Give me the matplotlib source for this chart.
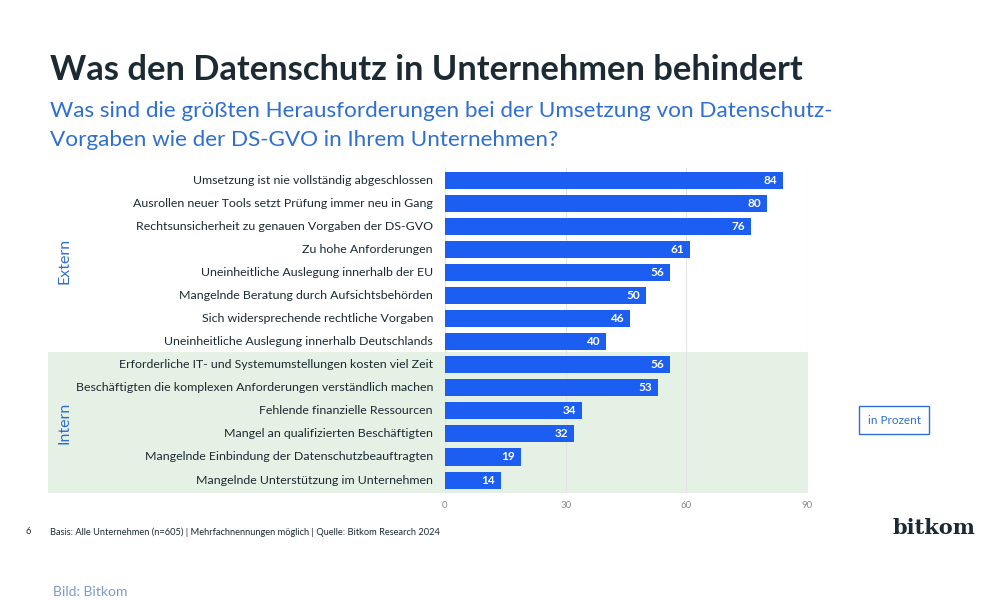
import matplotlib
matplotlib.use("Agg")
import matplotlib.pyplot as plt
import matplotlib.transforms as mtransforms
from matplotlib.patches import Rectangle

categories = [
    "Umsetzung ist nie vollständig abgeschlossen",
    "Ausrollen neuer Tools setzt Prüfung immer neu in Gang",
    "Rechtsunsicherheit zu genauen Vorgaben der DS-GVO",
    "Zu hohe Anforderungen",
    "Uneinheitliche Auslegung innerhalb der EU",
    "Mangelnde Beratung durch Aufsichtsbehörden",
    "Sich widersprechende rechtliche Vorgaben",
    "Uneinheitliche Auslegung innerhalb Deutschlands",
    "Erforderliche IT- und Systemumstellungen kosten viel Zeit",
    "Beschäftigten die komplexen Anforderungen verständlich machen",
    "Fehlende finanzielle Ressourcen",
    "Mangel an qualifizierten Beschäftigten",
    "Mangelnde Einbindung der Datenschutzbeauftragten",
    "Mangelnde Unterstützung im Unternehmen",
]
values = [84, 80, 76, 61, 56, 50, 46, 40, 56, 53, 34, 32, 19, 14]
groups = ["Extern"] * 8 + ["Intern"] * 6
x_ticks = [0, 30, 60, 90]

title = "Was den Datenschutz in Unternehmen behindert"
subtitle_lines = ["Was sind die größten Herausforderungen bei der Umsetzung von Datenschutz-",
                  "Vorgaben wie der DS-GVO in Ihrem Unternehmen?"]
footer = "Basis: Alle Unternehmen (n=605) | Mehrfachnennungen möglich | Quelle: Bitkom Research 2024"

BLUE = "#1c5ef2"
TEXTBLUE = "#2f6fd0"
DARK = "#1b2a33"
GREEN = "#e5f1e5"

plt.rcParams['font.family'] = ['Lato', 'DejaVu Sans']

fig = plt.figure(figsize=(10, 6), dpi=100)
fig.patch.set_facecolor("white")
ax = fig.add_axes([0.445, 1 - 493 / 600, 0.362, (493 - 168.5) / 600])

ypos = list(range(len(categories)))
ax.barh(ypos, values, height=0.74, color=BLUE, zorder=3)
ax.set_xlim(0, 90)
ax.set_ylim(13.56, -0.5)
ax.set_xticks(x_ticks)
ax.set_xticklabels([str(t) for t in x_ticks], fontsize=7, color="#8a8a8a")
ax.tick_params(axis="x", length=0, pad=6)
ax.set_yticks([])
for s in ax.spines.values():
    s.set_visible(False)
ax.grid(axis="x", color="#e3e3e3", linewidth=0.8, zorder=1)
ax.set_facecolor("none")

# category labels & values
for i, (c, v) in enumerate(zip(categories, values)):
    ax.text(-3.0, i, c, ha="right", va="center", fontsize=8.95, color=DARK)
    ax.text(v - 1.5, i, str(v), ha="right", va="center", fontsize=8.5,
            fontweight="bold", color="white", zorder=4)

# group background band for Intern
tr = mtransforms.blended_transform_factory(fig.transFigure, ax.transData)
first_int = groups.index("Intern")
ax.add_patch(Rectangle((0.048, first_int - 0.55), 0.808 - 0.048,
                       len(groups) - first_int + 0.11, transform=tr,
                       facecolor=GREEN, edgecolor="none", zorder=0, clip_on=False))

# group labels
for g in ["Extern", "Intern"]:
    idx = [i for i, gg in enumerate(groups) if gg == g]
    mid = (idx[0] + idx[-1]) / 2
    ax.text(0.065, mid, g, transform=tr, rotation=90, ha="center", va="center",
            fontsize=11.5, color=TEXTBLUE)

# titles
fig.text(0.05, 1 - 70 / 600, title, fontsize=24.8, fontweight="bold", color=DARK,
         ha="left", va="center")
for k, line in enumerate(subtitle_lines):
    fig.text(0.05, 1 - (111 + 29.5 * k) / 600, line, fontsize=16.2, color=TEXTBLUE,
             ha="left", va="center")

# in Prozent box
fig.text(0.894, 1 - 420 / 600, "in Prozent", fontsize=8.5, color=TEXTBLUE,
         ha="center", va="center",
         bbox=dict(boxstyle="square,pad=0.75", facecolor="white",
                   edgecolor=TEXTBLUE, linewidth=1))

# footer
fig.text(0.025, 1 - 532 / 600, "6", fontsize=6.65, color=DARK, ha="left", va="center")
fig.text(0.05, 1 - 532 / 600, footer, fontsize=6.65, color=DARK, ha="left", va="center")
fig.text(0.975, 1 - 528 / 600, "bitkom", fontsize=15, fontweight="bold",
         family=["DejaVu Serif"], color=DARK, ha="right", va="center")
fig.text(0.053, 1 - 592 / 600, "Bild: Bitkom", fontsize=10, color="#7d9ccc",
         ha="left", va="center")

fig.savefig("out.png", dpi=100)
